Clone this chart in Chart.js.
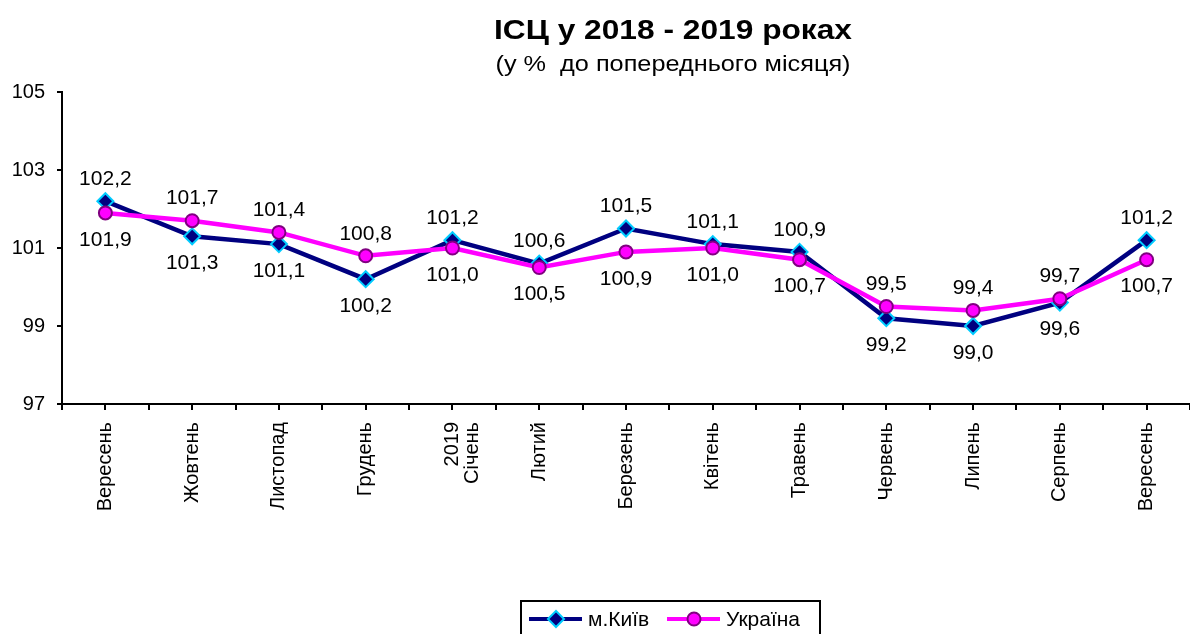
<!DOCTYPE html>
<html lang="uk">
<head>
<meta charset="utf-8">
<title>ІСЦ у 2018 - 2019 роках</title>
<script src="https://cdn.jsdelivr.net/npm/chart.js@4/dist/chart.umd.min.js"></script>
<style>
    html, body { margin: 0; padding: 0; background: #fff; overflow: hidden; }
    #cpiChart { display: block; }
</style>
</head>
<body>
<canvas id="cpiChart" width="1200" height="634"></canvas>
<script>
/* ========================================================================
   CPI chart: Kyiv vs Ukraine, month-on-month
   ======================================================================== */

const months = ['Вересень', 'Жовтень', 'Листопад', 'Грудень', ['2019', 'Січень'], 'Лютий', 'Березень',
    'Квітень', 'Травень', 'Червень', 'Липень', 'Серпень', 'Вересень'];
const kyiv = [102.2, 101.3, 101.1, 100.2, 101.2, 100.6, 101.5, 101.1, 100.9, 99.2, 99.0, 99.6, 101.2];
const ukraine = [101.9, 101.7, 101.4, 100.8, 101.0, 100.5, 100.9, 101.0, 100.7, 99.5, 99.4, 99.7, 100.7];
const yTicks = [97, 99, 101, 103, 105];
const seriesNames = ['м.Київ', 'Україна'];

const FONT = "'Liberation Sans', Arial, sans-serif";
Chart.defaults.font.family = FONT;
Chart.defaults.color = '#000';

const fmt = v => v.toFixed(1).replace('.', ',');

// draw text centred at cx, stretched to a given width (the original title is wide)
function wideText(ctx, text, cx, y, width) {
    const k = width / ctx.measureText(text).width;
    ctx.save();
    ctx.translate(cx, y);
    ctx.scale(k, 1);
    ctx.fillText(text, 0, 0);
    ctx.restore();
}

const titlePlugin = {
    id: 'titleBlock',
    afterDraw(chart) {
        const ctx = chart.ctx;
        ctx.save();
        ctx.fillStyle = '#000';
        ctx.textAlign = 'center';
        ctx.textBaseline = 'alphabetic';
        ctx.font = `bold 28px ${FONT}`;
        wideText(ctx, 'ІСЦ у 2018 - 2019 роках', 673, 39, 358);
        ctx.font = `22px ${FONT}`;
        wideText(ctx, '(у %  до попереднього місяця)', 673, 71, 355);
        ctx.restore();
    }
};

// value labels: higher series above its point, lower one below
const valueLabels = {
    id: 'valueLabels',
    afterDatasetsDraw(chart) {
        const ctx = chart.ctx;
        const sets = chart.data.datasets;
        ctx.save();
        ctx.font = `21px ${FONT}`;
        ctx.fillStyle = '#000';
        ctx.textAlign = 'center';
        ctx.textBaseline = 'middle';
        sets.forEach((ds, di) => {
            const other = sets[1 - di].data;
            chart.getDatasetMeta(di).data.forEach((pt, i) => {
                const up = ds.data[i] > other[i];
                ctx.fillText(fmt(ds.data[i]), pt.x, pt.y + (up ? -22 : 27));
            });
        });
        ctx.restore();
    }
};

// extra tick marks under each category centre (grid ticks sit on the boundaries)
const centreTicks = {
    id: 'centreTicks',
    afterDraw(chart) {
        const x = chart.scales.x;
        const ctx = chart.ctx;
        ctx.save();
        ctx.strokeStyle = '#000';
        ctx.lineWidth = 2;
        ctx.beginPath();
        months.forEach((m, i) => {
            const px = Math.round(x.getPixelForValue(i));
            ctx.moveTo(px, x.top);
            ctx.lineTo(px, x.top + 6);
        });
        ctx.stroke();
        ctx.restore();
    }
};

// boxed legend at the bottom
const boxLegend = {
    id: 'boxLegend',
    afterDraw(chart) {
        const ctx = chart.ctx;
        const sets = chart.data.datasets;
        const items = [{ x: 529, tx: 588 }, { x: 667, tx: 726 }];
        ctx.save();
        ctx.strokeStyle = '#000';
        ctx.lineWidth = 2;
        ctx.strokeRect(521, 601, 299, 50);
        const cy = 619;
        items.forEach((it, i) => {
            const ds = sets[i];
            ctx.strokeStyle = ds.borderColor;
            ctx.lineWidth = 4;
            ctx.beginPath();
            ctx.moveTo(it.x, cy);
            ctx.lineTo(it.x + 53, cy);
            ctx.stroke();
            ctx.fillStyle = ds.pointBackgroundColor;
            ctx.strokeStyle = ds.pointBorderColor;
            ctx.lineWidth = 2;
            Chart.helpers.drawPoint(ctx, { pointStyle: ds.pointStyle, radius: ds.pointRadius, borderWidth: 2 }, it.x + 27, cy);
            ctx.fillStyle = '#000';
            ctx.font = `21px ${FONT}`;
            ctx.textAlign = 'left';
            ctx.textBaseline = 'middle';
            ctx.fillText(seriesNames[i], it.tx, cy + 1);
        });
        ctx.restore();
    }
};

new Chart(document.getElementById('cpiChart'), {
    type: 'line',
    data: {
        labels: months,
        datasets: [
            { label: seriesNames[0], data: kyiv, borderColor: '#000080', borderWidth: 4.5, order: 1,
              pointStyle: 'rectRot', pointRadius: 8, pointBackgroundColor: '#000080', pointBorderColor: '#00CCFF', pointBorderWidth: 2,
              tension: 0 },
            { label: seriesNames[1], data: ukraine, borderColor: '#FF00FF', borderWidth: 4.5, order: 0,
              pointStyle: 'circle', pointRadius: 6.5, pointBackgroundColor: '#FF00FF', pointBorderColor: '#800080', pointBorderWidth: 2,
              tension: 0 }
        ]
    },
    options: {
        responsive: false, animation: false, devicePixelRatio: 1,
        layout: { padding: { top: 92, right: 0, left: 0, bottom: 0 } },
        plugins: { legend: { display: false }, title: { display: false }, tooltip: { enabled: false } },
        scales: {
            x: {
                offset: true,
                grid: { offset: true, drawOnChartArea: false, tickLength: 6, color: '#000', lineWidth: 2 },
                border: { color: '#000', width: 2 },
                ticks: { autoSkip: false, minRotation: 90, maxRotation: 90, padding: 12, font: { size: 20, lineHeight: 1.0 } },
                afterFit: s => { s.height = 230; }
            },
            y: {
                min: 97, max: 105,
                afterBuildTicks: s => { s.ticks = yTicks.map(v => ({ value: v })); },
                grid: { drawOnChartArea: false, tickLength: 5, color: '#000', lineWidth: 2 },
                border: { color: '#000', width: 2 },
                ticks: { padding: 12, font: { size: 20 } },
                afterFit: s => { s.width = 62; }
            }
        }
    },
    plugins: [titlePlugin, valueLabels, centreTicks, boxLegend]
});
</script>
</body>
</html>
